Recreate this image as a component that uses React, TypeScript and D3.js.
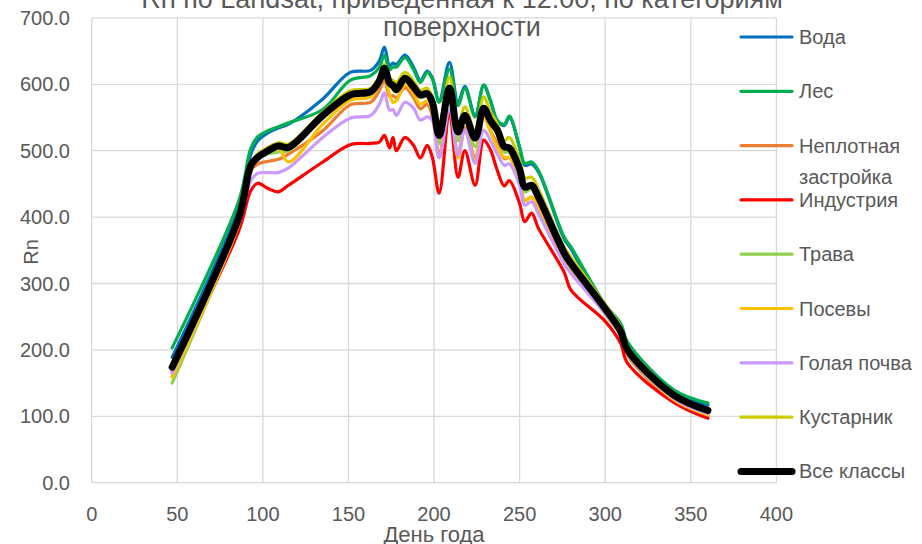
import React from "react";
import * as d3 from "d3";

const days = [47, 86, 93, 97, 103, 109, 115, 135, 151, 163, 168, 171, 174, 176, 178, 183, 188, 192, 196, 199, 203, 209, 214, 218, 224, 229, 233, 237, 241, 244, 250, 253, 257, 261, 276, 280, 300, 309, 313, 340, 360];

const seriesNames = ["Вода", "Лес", "Неплотная застройка", "Индустрия", "Трава", "Посевы", "Голая почва", "Кустарник", "Все классы"];

const voda = [189, 415, 495, 515, 527, 534, 540, 578, 618, 621, 635, 656, 628, 632, 630, 644, 626, 606, 620, 610, 575, 633, 572, 597, 553, 598, 575, 545, 538, 550, 505, 478, 480, 468, 367, 352, 262, 238, 210, 137, 117];
const les = [203, 425, 504, 521, 530, 536, 542, 562, 606, 613, 625, 644, 622, 626, 626, 640, 622, 603, 618, 608, 573, 623, 568, 594, 551, 599, 575, 545, 540, 552, 505, 481, 483, 470, 370, 355, 268, 240, 212, 140, 120];
const zastroika = [160, 388, 470, 480, 484, 487, 495, 530, 569, 573, 590, 606, 582, 583, 580, 595, 580, 563, 570, 552, 495, 585, 495, 535, 490, 555, 530, 510, 488, 490, 455, 425, 430, 413, 333, 318, 254, 222, 192, 124, 101];
const industria = [168, 380, 440, 451, 443, 438, 448, 483, 509, 511, 513, 523, 504, 520, 500, 520, 508, 489, 508, 490, 436, 556, 460, 500, 448, 516, 501, 470, 447, 455, 420, 393, 406, 383, 317, 290, 243, 210, 180, 121, 97];
const trava = [150, 395, 472, 487, 495, 498, 500, 550, 582, 586, 602, 620, 598, 594, 588, 605, 592, 580, 582, 568, 511, 590, 515, 548, 506, 560, 540, 525, 498, 498, 465, 438, 442, 425, 340, 325, 262, 230, 200, 130, 108];
const posevy = [159, 390, 470, 488, 498, 505, 483, 540, 576, 581, 598, 612, 585, 573, 575, 600, 586, 570, 575, 560, 489, 580, 489, 530, 486, 550, 528, 505, 490, 490, 455, 425, 430, 415, 337, 322, 256, 225, 195, 125, 102];
const golaya = [165, 392, 455, 466, 467, 467, 474, 520, 549, 553, 570, 587, 561, 562, 553, 573, 564, 546, 551, 546, 489, 561, 493, 531, 481, 531, 515, 495, 478, 480, 448, 418, 423, 405, 330, 315, 255, 224, 195, 127, 104];
const kustarnik = [172, 400, 482, 495, 505, 512, 510, 558, 590, 594, 612, 630, 610, 606, 603, 618, 605, 591, 594, 580, 534, 611, 537, 566, 528, 581, 558, 540, 515, 520, 485, 459, 460, 442, 355, 340, 268, 235, 205, 134, 110];
const vse = [174, 400, 478, 490, 500, 507, 505, 553, 584, 589, 605, 624, 602, 598, 592, 609, 596, 584, 586, 573, 523, 594, 528, 553, 519, 564, 545, 531, 506, 504, 472, 445, 448, 430, 346, 330, 262, 228, 200, 132, 109];

const seriesValues = [voda, les, zastroika, industria, trava, posevy, golaya, kustarnik, vse];

const xTicks = [0, 50, 100, 150, 200, 250, 300, 350, 400];
const yTicks = [0, 100, 200, 300, 400, 500, 600, 700];
const titleLines = ["Rn по Landsat, приведенная к 12:00, по категориям", "поверхности"];
const xTitle = "День года";
const yTitle = "Rn";

const COLORS = ["#0070C0", "#00B050", "#ED7D31", "#FF0000", "#92D050", "#FFC000", "#CC99FF", "#CCCC00", "#000000"];
const WIDTHS = [3.2, 3.2, 3.2, 3.2, 3.2, 3.2, 3.2, 3.2, 7];

const FONT = "'Liberation Sans', Arial, sans-serif";
const TXT = "#595959";

export default function App() {
  const W = 922;
  const H = 544;
  const x = d3.scaleLinear().domain([0, 400]).range([91.7, 776.4]);
  const y = d3.scaleLinear().domain([0, 700]).range([482.7, 17.9]);
  const line = d3
    .line<number>()
    .x((_, i) => x(days[i]))
    .y((d) => y(d))
    .curve(d3.curveCatmullRom.alpha(0.5));

  const legendY = (i: number) => 37 + i * 54.3;

  return (
    <div style={{ position: "absolute", left: 0, top: 0 }}>
      <svg width={W} height={H} style={{ display: "block", background: "#fff" }} fontFamily={FONT}>
        <rect x={0} y={0} width={W} height={H} fill="#fff" />
        {yTicks.map((t) => (
          <line key={"gy" + t} x1={x(0)} x2={x(400)} y1={y(t)} y2={y(t)} stroke="#d9d9d9" strokeWidth={1.3} />
        ))}
        {xTicks.map((t) => (
          <line key={"gx" + t} x1={x(t)} x2={x(t)} y1={y(0)} y2={y(700)} stroke="#d9d9d9" strokeWidth={1.3} />
        ))}
        {titleLines.map((t, i) => (
          <text key={"t" + i} x={462} y={8 + i * 28} textAnchor="middle" fontSize={27} fill={TXT}>
            {t}
          </text>
        ))}
        {yTicks.map((t) => (
          <text key={"ly" + t} x={70} y={y(t) + 7} textAnchor="end" fontSize={20} fill={TXT}>
            {t.toFixed(1)}
          </text>
        ))}
        {xTicks.map((t) => (
          <text key={"lx" + t} x={x(t)} y={521} textAnchor="middle" fontSize={20} fill={TXT}>
            {t}
          </text>
        ))}
        <text x={434} y={542} textAnchor="middle" fontSize={22} fill={TXT}>
          {xTitle}
        </text>
        <text transform={`translate(38,252) rotate(-90)`} textAnchor="middle" fontSize={20} fill={TXT}>
          {yTitle}
        </text>
        {seriesValues.map((vals, i) => (
          <path
            key={"s" + i}
            d={line(vals) || ""}
            fill="none"
            stroke={COLORS[i]}
            strokeWidth={WIDTHS[i]}
            strokeLinejoin="round"
            strokeLinecap="round"
          />
        ))}
        {seriesNames.map((name, i) => {
          const ly = legendY(i);
          const parts = name === "Неплотная застройка" ? ["Неплотная", "застройка"] : [name];
          return (
            <g key={"lg" + i}>
              <line x1={741} x2={792} y1={ly} y2={ly} stroke={COLORS[i]} strokeWidth={WIDTHS[i]} strokeLinecap="round" />
              {parts.map((p, j) => (
                <text key={j} x={799} y={ly + 7 + j * 31} fontSize={20} fill={TXT}>
                  {p}
                </text>
              ))}
            </g>
          );
        })}
      </svg>
    </div>
  );
}
